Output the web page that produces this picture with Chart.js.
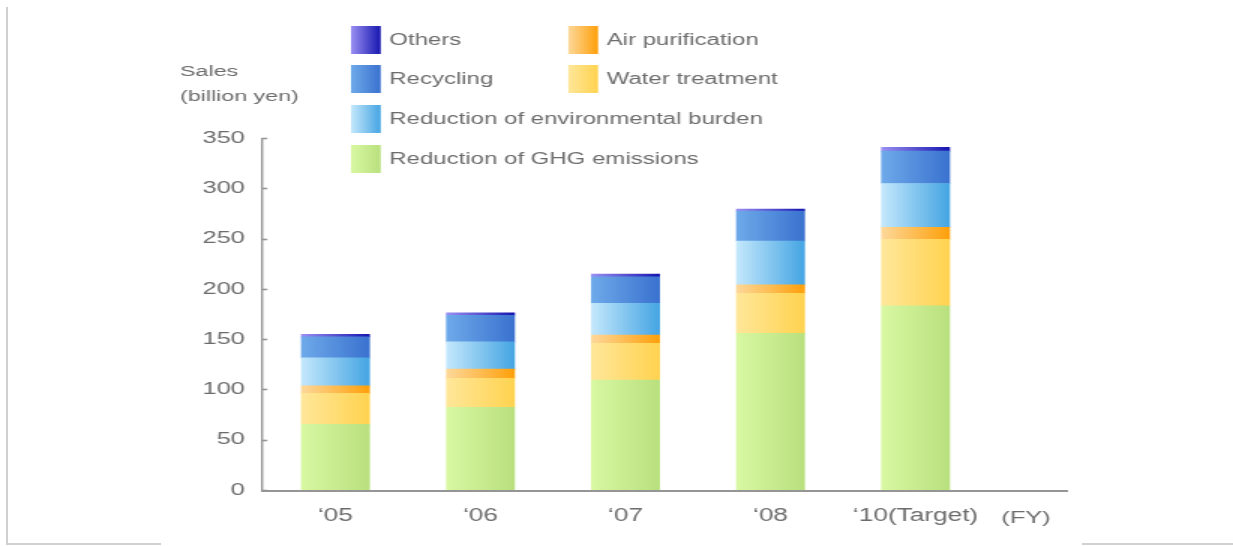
<!DOCTYPE html>
<html>
<head>
<meta charset="utf-8">
<script src="https://cdn.jsdelivr.net/npm/chart.js@4/dist/chart.umd.min.js"></script>
<style>
  html, body { margin: 0; padding: 0; background: #fff; }
  #wrap { position: relative; width: 1233px; height: 546px; overflow: hidden; background: #fff; }
  #c { position: absolute; left: 0; top: 0; }
  .edge { position: absolute; background: #d0d0d0; }
</style>
</head>
<body>
<div id="wrap">
  <!-- drawn narrow and widened by CSS, giving the wide lettering of the figure -->
  <canvas id="c" width="822" height="546" style="width:1233px;height:546px"></canvas>
  <div class="edge" style="left:6px;top:7px;width:2px;height:538px"></div>
  <div class="edge" style="left:6px;top:543px;width:155px;height:2px"></div>
  <div class="edge" style="left:1082px;top:543px;width:151px;height:2px"></div>
</div>
<script>
// Environmental business sales by field (billion yen)
const categories = ['\u201805', '\u201806', '\u201807', '\u201808', '\u201810(Target)'];
const ghgReduction   = [65.3, 82.2, 109.3, 155.8, 183.2];
const waterTreatment = [30.8, 28.8, 36.5, 39.8, 66.0];
const airPurification = [7.5, 9.2, 8.3, 8.3, 11.9];
const burdenReduction = [27.8, 27.1, 31.5, 43.7, 43.7];
const recycling      = [20.9, 26.5, 26.4, 29.8, 32.1];
const others         = [2.4, 2.3, 2.6, 2.0, 3.7];
const yTicks = [0, 50, 100, 150, 200, 250, 300, 350];

const FONT = "'Liberation Sans', Arial, Helvetica, sans-serif";
const TEXT = '#6c6c6c';
const AXIS = '#959595';
const BAR_W = 45.3;

// left-to-right shading of each segment
const shades = {
  ghg:    ['#d8f8a2', '#b9e07e'],
  water:  ['#ffe79a', '#ffd350'],
  air:    ['#fdd89a', '#ffa00a'],
  burden: ['#c4e8fc', '#45a5e3'],
  recyc:  ['#6eaaea', '#3a72cf'],
  others: ['#9a8ff2', '#1616b0']
};

function barFill(stops) {
  return (ctx) => {
    const chart = ctx.chart;
    const xs = chart.scales && chart.scales.x;
    if (!chart.chartArea || !xs || ctx.dataIndex === undefined) return stops[1];
    const cx = xs.getPixelForValue(ctx.dataIndex);
    const g = chart.ctx.createLinearGradient(cx - BAR_W / 2, 0, cx + BAR_W / 2, 0);
    g.addColorStop(0, stops[0]);
    g.addColorStop(1, stops[1]);
    return g;
  };
}

const series = [
  { label: 'Reduction of GHG emissions', data: ghgReduction, key: 'ghg' },
  { label: 'Water treatment', data: waterTreatment, key: 'water' },
  { label: 'Air purification', data: airPurification, key: 'air' },
  { label: 'Reduction of environmental burden', data: burdenReduction, key: 'burden' },
  { label: 'Recycling', data: recycling, key: 'recyc' },
  { label: 'Others', data: others, key: 'others' }
];

const datasets = series.map(s => ({
  label: s.label,
  data: s.data,
  backgroundColor: barFill(shades[s.key]),
  borderWidth: 0,
  barThickness: BAR_W,
  stack: 'sales'
}));

// legend block: two columns on the first two rows, then full-width rows
const legendSlots = [
  { key: 'others', label: 'Others',                            x: 234.0, y: 40 },
  { key: 'air',    label: 'Air purification',                  x: 378.9, y: 40 },
  { key: 'recyc',  label: 'Recycling',                         x: 234.0, y: 79 },
  { key: 'water',  label: 'Water treatment',                   x: 378.9, y: 79 },
  { key: 'burden', label: 'Reduction of environmental burden', x: 234.0, y: 119 },
  { key: 'ghg',    label: 'Reduction of GHG emissions',        x: 234.0, y: 159 }
];

const decor = {
  id: 'decor',
  afterDraw(chart) {
    const c = chart.ctx;
    const y = chart.scales.y;
    const area = chart.chartArea;
    const top = y.getPixelForValue(350);
    const base = y.getPixelForValue(0);
    const ax = Math.round(area.left) - 0.3;
    c.save();
    c.strokeStyle = AXIS;

    // value axis with inward tick marks
    c.lineWidth = 1.4;
    c.beginPath();
    c.moveTo(ax, top);
    c.lineTo(ax, base + 1);
    c.stroke();
    c.lineWidth = 1.6;
    yTicks.forEach(v => {
      const py = Math.round(y.getPixelForValue(v)) + 0.5;
      c.beginPath();
      c.moveTo(ax, py);
      c.lineTo(ax + 3.5, py);
      c.stroke();
    });

    // category axis, running on past the last bar to the unit label
    c.lineWidth = 2;
    c.beginPath();
    c.moveTo(ax - 0.7, base + 1);
    c.lineTo(712, base + 1);
    c.stroke();

    c.fillStyle = TEXT;
    c.textBaseline = 'middle';
    c.textAlign = 'left';
    c.font = '15.5px ' + FONT;
    c.fillText('Sales', 120, 72);
    c.fillText('(billion yen)', 120, 97);

    c.font = '17px ' + FONT;
    c.textAlign = 'center';
    c.fillText('(FY)', 684, 518);

    // legend
    c.font = '16px ' + FONT;
    c.textAlign = 'left';
    legendSlots.forEach(item => {
      const st = shades[item.key];
      const g = c.createLinearGradient(item.x, 0, item.x + 19.8, 0);
      g.addColorStop(0, st[0]);
      g.addColorStop(1, st[1]);
      c.fillStyle = g;
      c.fillRect(item.x, item.y - 14, 19.8, 28);
      c.fillStyle = TEXT;
      c.fillText(item.label, item.x + 25.5, item.y + 1);
    });
    c.restore();
  }
};

new Chart(document.getElementById('c'), {
  type: 'bar',
  data: { labels: categories, datasets },
  options: {
    responsive: false,
    animation: false,
    devicePixelRatio: 1,
    layout: { padding: { left: 0, top: 138, right: 822 - 658.7, bottom: 0 } },
    plugins: { legend: { display: false }, tooltip: { enabled: false } },
    scales: {
      x: {
        stacked: true,
        grid: { display: false, drawTicks: false },
        border: { display: false },
        ticks: { color: TEXT, font: { family: FONT, size: 17.5 }, padding: 16, maxRotation: 0, autoSkip: false },
        afterFit(s) { s.height = 56; }
      },
      y: {
        stacked: true,
        min: 0,
        max: 350,
        grid: { display: false, drawTicks: false },
        border: { display: false },
        afterBuildTicks(s) { s.ticks = yTicks.map(v => ({ value: v })); },
        ticks: { color: TEXT, font: { family: FONT, size: 17 }, padding: 12 },
        afterFit(s) { s.width = 175.3; }
      }
    }
  },
  plugins: [decor]
});
</script>
</body>
</html>
